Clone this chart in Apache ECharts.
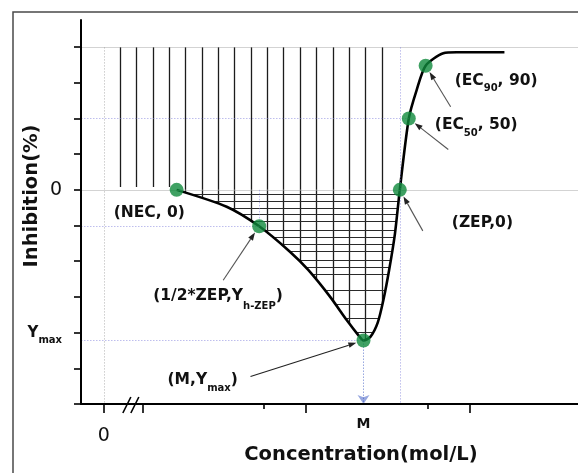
<!DOCTYPE html>
<html><head><meta charset="utf-8">
<script src="https://cdn.jsdelivr.net/npm/echarts@6/dist/echarts.min.js"></script>
<style>html,body{margin:0;padding:0;background:#fff}#c{width:578px;height:473px}</style>
</head><body><div id="c"></div>
<script>
// ---------- data (schematic units) ----------
const curveX = [4.45, 7.51, 9.5, 11.38, 12.5, 13.83, 14.85, 15.56, 15.88, 16.3, 16.75, 17.1, 17.45, 17.8, 18.1, 18.65, 19.13, 19.68, 20.76, 21.58, 24.5];
const curveY = [0, -11.8, -25.5, -43.3, -56.1, -74.8, -91.2, -101.7, -105.5, -103, -93, -77, -56, -31, 0, 50, 69.9, 87, 95.7, 96.4, 96.4];
const keyNames = ['NEC', 'halfZEP', 'M', 'ZEP', 'EC50', 'EC90'];
const keyX = [4.45, 9.5, 15.88, 18.1, 18.65, 19.68];
const keyY = [0, -25.5, -105.5, 0, 50, 87];
const keyText = ['{a|(NEC, 0)}', '{a|(1/2*ZEP,Y}{t|h-ZEP}{a|)}', '{a|(M,Y}{s|max}{a|)}', '{a|(ZEP,0)}', '{a|(EC}{s|50}{a|, 50)}', '{a|(EC}{s|90}{a|, 90)}'];
const hatchUpperX = [1, 2, 3, 4, 5, 6, 7, 8, 9, 10, 11, 12, 13, 14, 15, 16, 17];
const hatchLowerX = [5, 6, 7, 8, 9, 10, 11, 12, 13, 14, 15, 16, 17];
const hatchY = [-3, -8, -13, -17, -22, -28, -33, -38, -43, -49, -54, -59, -70, -80, -90, -100];
const levelTop = 100;
const hatchGap = 2;
const yTicks = [-150, -125, -100, -75, -50, -25, 0, 25, 50, 75, 100];
const yLabels = [0, -105.5];
const xMajorTicks = [0, 2.35, 12.35, 22.35];
const xMinorTicks = [9.77, 19.78];
const xLabels = [0, 15.88];

// ---------- layout / style ----------
const xMin = -1.4, xMax = 29, yMin = -150, yMax = 119;
const FB = 'DejaVu Sans';
const GREEN = '#0f8a3c';
const BLUE_DOT = '#7d7ddc';
// label placement (pixel offsets from the dot): [left, mainCenterY]
const labelOff = [[-63, 23], [-106, 69], [-196, 39.5], [52, 32.6], [26, 6.5], [29, 15]];
const tailOff = [null, [-36, 54], [-113, 36], [23, 41], [39.5, 31], [25, 41]];
const breakX = 1.65;

const seg = (a, b) => ({ coords: [a, b] });
const hatchV = [], hatchH = [];
hatchUpperX.forEach(x => hatchV.push(seg([x, levelTop], [x, x < keyX[0] ? hatchGap : 0])));
hatchLowerX.forEach(x => hatchV.push(seg([x, 0], [x, yMin])));
hatchY.forEach(y => hatchH.push(seg([keyX[0] + 0.4, y], [keyX[3] + 1, y])));

const grayRefs = [seg([xMin, levelTop], [xMax, levelTop]), seg([xMin, 0], [xMax, 0])];
const blueRefs = [
  seg([xMin, keyY[4]], [keyX[4], keyY[4]]),
  seg([xMin, keyY[1]], [keyX[1], keyY[1]]),
  seg([keyX[1], 0], [keyX[1], keyY[1]]),
  seg([xMin, keyY[2]], [keyX[2], keyY[2]]),
  seg([keyX[3], levelTop], [keyX[3], yMin])
];
const zeroRef = [seg([0, levelTop], [0, yMin])];
const mArrow = [seg([keyX[2], keyY[2]], [keyX[2], yMin])];

const chart = echarts.init(document.getElementById('c'));
const xAxisBase = {
  type: 'value', min: xMin, max: xMax, position: 'bottom', gridIndex: 0,
  splitLine: { show: false }, z: 6
};
chart.setOption({
  animation: false,
  backgroundColor: '#fff',
  grid: { left: 81, top: 20, right: 0, bottom: 69, outerBoundsMode: 'none', containLabel: false },
  xAxis: [
    Object.assign({}, xAxisBase, {
      axisLine: { show: true, onZero: false, lineStyle: { color: '#000', width: 2 } },
      axisTick: { show: true, customValues: xMajorTicks, length: 9, lineStyle: { color: '#000', width: 1.6 } },
      axisLabel: {
        show: true, customValues: xLabels, margin: 6,
        formatter: v => v === 0 ? '{z|0}' : '{m|M}',
        rich: {
          z: { fontFamily: FB, fontSize: 19, color: '#111', lineHeight: 52 },
          m: { fontFamily: FB, fontSize: 14, fontWeight: 'bold', color: '#111', lineHeight: 28 }
        }
      }
    }),
    Object.assign({}, xAxisBase, {
      axisLine: { show: false, onZero: false },
      axisTick: { show: true, customValues: xMinorTicks, length: 5, lineStyle: { color: '#000', width: 1.6 } },
      axisLabel: { show: false }
    })
  ],
  yAxis: {
    type: 'value', min: yMin, max: yMax, splitLine: { show: false }, z: 6,
    axisLine: { show: true, onZero: false, lineStyle: { color: '#000', width: 2 } },
    axisTick: { show: true, customValues: yTicks, length: 7, lineStyle: { color: '#000', width: 1.6 } },
    axisLabel: {
      show: true, customValues: yLabels, margin: 19,
      formatter: v => v === 0 ? '{z|0}' : '{y|Y}{m|max}',
      rich: {
        z: { fontFamily: FB, fontSize: 19, color: '#111', lineHeight: 22 },
        y: { fontFamily: FB, fontSize: 15, fontWeight: 'bold', color: '#111', lineHeight: 18, verticalAlign: 'top' },
        m: { fontFamily: FB, fontSize: 10, fontWeight: 'bold', color: '#111', lineHeight: 29, verticalAlign: 'middle' }
      }
    }
  },
  series: [
    { type: 'lines', coordinateSystem: 'cartesian2d', z: 2, data: hatchV, symbol: 'none',
      lineStyle: { color: '#1c1c1c', width: 1.3, opacity: 1 } },
    { type: 'lines', coordinateSystem: 'cartesian2d', z: 2, data: hatchH, symbol: 'none',
      lineStyle: { color: '#2a2a2a', width: 1.1, opacity: 1 } },
    { type: 'line', z: 3, data: curveX.map((x, i) => [x, curveY[i]]), smooth: 0.25, symbol: 'none',
      lineStyle: { color: '#000', width: 2.6 },
      areaStyle: { color: '#fff', opacity: 1, origin: 'start' } },
    { type: 'lines', coordinateSystem: 'cartesian2d', z: 4, data: grayRefs, symbol: 'none',
      lineStyle: { color: '#a8a8a8', width: 1.2 } },
    { type: 'lines', coordinateSystem: 'cartesian2d', z: 4, data: blueRefs, symbol: 'none',
      lineStyle: { color: BLUE_DOT, width: 1, type: [1.5, 1.5] } },
    { type: 'lines', coordinateSystem: 'cartesian2d', z: 4, data: zeroRef, symbol: 'none',
      lineStyle: { color: '#999', width: 1, type: [1.5, 1.5] } },
    { type: 'lines', coordinateSystem: 'cartesian2d', z: 4, data: mArrow, symbol: ['none', 'arrow'], symbolSize: [6, 9],
      lineStyle: { color: '#3050c0', width: 1, type: [1.5, 1.5] } },
    { type: 'scatter', z: 7, data: keyX.map((x, i) => [x, keyY[i]]), symbol: 'circle', symbolSize: 14,
      itemStyle: { color: GREEN } }
  ]
});

// ---------- annotations ----------
const P = (x, y) => chart.convertToPixel({ xAxisIndex: 0, yAxisIndex: 0 }, [x, y]);
const g = [];
g.push({ type: 'rect', z: 100, shape: { x: 13, y: 12, width: 620, height: 520 }, style: { fill: 'none', stroke: '#4a4a4a', lineWidth: 1.5 } });
const richAnn = {
  a: { fontFamily: FB, fontSize: 15.5, fontWeight: 'bold', fill: '#111', lineHeight: 20, verticalAlign: 'top' },
  s: { fontFamily: FB, fontSize: 10, fontWeight: 'bold', fill: '#111', lineHeight: 31.5, verticalAlign: 'middle' },
  t: { fontFamily: FB, fontSize: 10, fontWeight: 'bold', fill: '#111', lineHeight: 37.5, verticalAlign: 'middle' }
};
keyX.forEach((x, i) => {
  const d = P(x, keyY[i]);
  g.push({ type: 'text', z: 100, x: d[0] + labelOff[i][0], y: d[1] + labelOff[i][1] - 7.75,
    style: { text: keyText[i], rich: richAnn, align: 'left', verticalAlign: 'top' } });
  const t = tailOff[i];
  if (t) {
    const tx = d[0] + t[0], ty = d[1] + t[1];
    const dx = d[0] - tx, dy = d[1] - ty, L = Math.hypot(dx, dy);
    const ux = dx / L, uy = dy / L;
    const ex = d[0] - ux * 7.5, ey = d[1] - uy * 7.5;
    const bx = ex - ux * 8, by = ey - uy * 8;
    const col = i === 2 ? '#222' : '#555';
    g.push({ type: 'line', z: 100, shape: { x1: tx, y1: ty, x2: bx, y2: by }, style: { stroke: col, lineWidth: 1.1 } });
    g.push({ type: 'polygon', z: 100, shape: { points: [[ex, ey], [bx - uy * 2.8, by + ux * 2.8], [bx + uy * 2.8, by - ux * 2.8]] }, style: { fill: '#222' } });
  }
});
// axis break marks
const b = P(breakX, yMin);
g.push({ type: 'line', z: 100, shape: { x1: b[0] - 8, y1: b[1] + 9, x2: b[0], y2: b[1] - 7 }, style: { stroke: '#000', lineWidth: 1.6 } });
g.push({ type: 'line', z: 100, shape: { x1: b[0], y1: b[1] + 9, x2: b[0] + 8, y2: b[1] - 7 }, style: { stroke: '#000', lineWidth: 1.6 } });
// axis titles
g.push({ type: 'text', z: 100, x: 32, y: 196, rotation: Math.PI / 2,
  style: { text: 'Inhibition(%)', fontFamily: FB, fontSize: 19.5, fontWeight: 'bold', fill: '#111', align: 'center', verticalAlign: 'middle' } });
g.push({ type: 'text', z: 100, x: 361, y: 455,
  style: { text: 'Concentration(mol/L)', fontFamily: FB, fontSize: 19.5, fontWeight: 'bold', fill: '#111', align: 'center', verticalAlign: 'middle' } });
chart.setOption({ graphic: g });
</script></body></html>
